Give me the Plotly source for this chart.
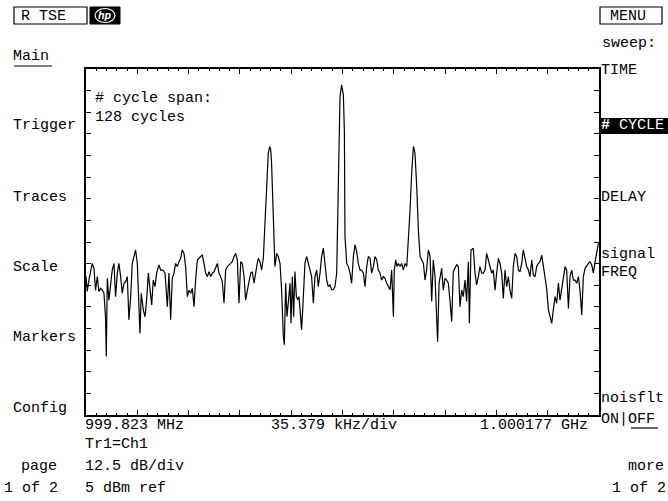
import plotly.graph_objects as go

# ---- data: frequency offset from 1 GHz centre (kHz) and level (dBm) ----
lower_freq_khz = [-176.9,-176.0,-174.9,-173.7,-172.6,-171.4,-170.3,-169.1,-168.0,-166.8,-165.7,-164.5,-163.4,-162.9,-162.2,-161.1,-159.9,-158.8,-157.6,-156.5,-155.3,-154.2,-153.0,-151.9,-150.7,-149.6,-148.4,-147.3,-146.1,-145.0,-143.8,-142.7,-141.5,-140.4,-139.7,-138.8,-137.4,-136.2,-135.1,-133.9,-132.8,-131.6,-130.5,-129.3,-128.2,-126.6,-125.4,-123.8,-122.4,-120.8,-119.7,-118.5,-117.4,-116.2,-115.1,-113.9,-112.8,-111.6,-110.5,-109.3,-108.2,-107.0,-105.9,-104.7,-103.6,-102.4,-101.3,-100.1,-97.8,-96.7,-95.5,-94.4,-93.2,-92.1,-90.9,-89.8,-88.6,-87.5,-86.3,-85.2,-84.0,-82.9,-81.7,-80.6,-79.4,-77.1,-76.0,-74.8,-73.7,-72.5,-71.4,-70.2,-69.1,-67.9,-66.8,-65.6,-64.5,-63.3,-62.2,-61.0]
lower_level_dbm = [-55.0,-59.3,-56.0,-53.1,-51.2,-52.6,-58.9,-55.0,-59.3,-58.4,-58.9,-59.8,-67.0,-78.1,-55.5,-61.8,-57.9,-53.1,-51.2,-60.8,-54.0,-51.2,-55.0,-59.8,-56.9,-56.5,-55.0,-67.5,-60.8,-51.2,-49.2,-47.3,-51.2,-61.3,-71.4,-59.8,-64.6,-66.6,-61.8,-54.0,-57.9,-63.2,-56.0,-57.9,-54.0,-51.6,-53.1,-53.1,-54.0,-63.7,-54.0,-67.5,-55.5,-54.0,-51.2,-52.1,-50.7,-49.7,-47.3,-48.3,-52.1,-60.8,-58.9,-59.8,-58.4,-63.7,-56.0,-50.2,-49.2,-48.8,-51.2,-54.0,-55.0,-53.6,-55.0,-54.0,-53.6,-52.1,-51.2,-54.0,-55.0,-56.5,-62.7,-53.1,-52.1,-51.2,-50.7,-49.2,-48.3,-50.2,-62.7,-50.7,-51.2,-55.0,-61.8,-58.9,-56.0,-54.0,-53.6,-56.9]

carrier_freq_khz = [-59.2,-58.1,-56.9,-55.8,-54.6,-53.5,-52.3,-51.2,-50.2,-49.5,-48.9,-48.4,-47.7,-46.6,-45.4,-44.3,-43.1,-42.0,-40.8,-40.1,-39.2,-38.3,-37.4,-36.2,-35.5,-34.6,-33.7,-32.8,-31.8,-30.9,-30.0,-29.1,-28.2,-27.0,-25.9,-24.7,-23.6,-22.4,-21.3,-20.1,-19.0,-17.8,-16.7,-15.5,-14.4,-13.2,-12.0,-10.9,-9.8,-8.6,-7.5,-6.3,-5.2,-4.0,-2.9,-1.7,-0.6,0.6,1.3,1.7,2.9,4.0,5.2,6.3,7.5,8.6,9.8,10.9,12.1,13.2,14.4,15.5,16.7,17.8,19.0,20.1,21.3,22.4,23.6,24.7,25.9,27.0,28.2,29.3,30.5,31.6,32.8,33.9,35.1,35.7,36.7,37.6,38.5,39.7,40.8,42.0,43.1,44.3,45.4,46.6,47.7,48.9,49.5,50.0,51.2,52.3,53.5,54.6,55.8]
carrier_level_dbm = [-52.1,-49.7,-50.7,-53.1,-49.7,-40.6,-29.0,-19.4,-17.4,-18.4,-22.3,-30.0,-42.5,-52.1,-48.3,-49.2,-51.2,-58.8,-72.3,-74.7,-56.9,-66.6,-62.7,-56.9,-68.5,-55.0,-66.6,-53.5,-60.8,-61.7,-60.8,-64.6,-70.4,-60.8,-51.2,-49.2,-51.2,-53.1,-55.0,-62.7,-55.0,-53.1,-57.9,-54.0,-49.2,-46.8,-52.1,-56.0,-57.9,-57.4,-58.8,-58.8,-57.9,-54.0,-29.0,-3.0,0.4,-2.5,-13.1,-43.4,-51.2,-52.1,-54.0,-56.9,-49.2,-45.8,-47.8,-51.2,-53.1,-53.1,-54.0,-57.9,-52.1,-49.2,-49.7,-54.0,-52.1,-49.2,-50.2,-53.1,-54.0,-56.0,-55.0,-55.5,-56.9,-57.9,-58.8,-53.1,-66.6,-53.1,-50.2,-52.1,-51.2,-52.1,-51.2,-53.1,-51.2,-52.1,-45.4,-35.7,-25.1,-17.4,-18.4,-19.4,-29.0,-41.5,-49.2,-50.2,-51.2]

upper_freq_khz = [56.9,58.0,59.2,60.4,61.5,62.6,63.8,64.9,65.6,66.6,67.7,68.4,69.5,70.7,71.8,73.0,74.1,75.3,76.4,77.6,78.7,79.9,81.0,82.2,83.3,84.5,85.6,86.8,87.5,88.6,90.2,91.4,92.5,93.7,94.8,96.0,97.1,98.3,99.4,100.6,101.7,102.9,104.0,105.2,106.3,107.5,108.6,109.8,110.9,112.1,113.2,114.4,115.5,116.7,117.8,119.0,120.1,121.3,122.4,123.6,124.7,125.9,127.0,128.2,129.3,130.5,131.6,132.8,133.9,135.1,136.2,137.4,138.5,139.7,140.8,142.0,143.1,144.3,145.4,146.6,147.7,148.9,150.0,151.2,152.3,153.5,154.6,155.8,156.9,158.1,159.2,160.4,161.5,162.7,163.8,165.0,166.1,167.3,169.6,170.7,171.9,173.0,174.2,175.3,176.5]
upper_level_dbm = [-56.0,-53.1,-47.3,-49.2,-62.2,-50.2,-55.0,-70.4,-73.8,-56.9,-54.0,-52.6,-58.9,-55.5,-56.0,-56.9,-61.8,-68.0,-53.6,-52.6,-51.6,-52.1,-63.7,-58.9,-60.8,-56.0,-62.2,-50.7,-68.5,-47.3,-46.8,-54.0,-57.4,-55.0,-52.1,-54.0,-54.0,-53.1,-48.3,-50.2,-52.1,-54.0,-53.1,-58.9,-54.0,-49.7,-51.2,-54.0,-61.3,-53.1,-57.9,-55.0,-58.9,-61.3,-52.1,-48.3,-49.2,-53.1,-53.6,-51.2,-47.3,-50.2,-52.1,-53.1,-55.0,-50.2,-54.5,-55.0,-52.1,-51.2,-50.7,-48.8,-51.6,-55.5,-58.4,-64.6,-66.6,-68.5,-64.6,-60.8,-62.7,-56.9,-61.8,-58.9,-55.0,-52.1,-53.1,-64.2,-55.0,-53.1,-56.0,-56.0,-56.9,-55.0,-58.9,-66.1,-55.0,-52.6,-51.2,-50.7,-51.6,-54.0,-50.7,-48.3,-45.4]

assert len(lower_freq_khz) == len(lower_level_dbm)
assert len(carrier_freq_khz) == len(carrier_level_dbm)
assert len(upper_freq_khz) == len(upper_level_dbm)

freq_khz = lower_freq_khz + carrier_freq_khz + upper_freq_khz
level_dbm = lower_level_dbm + carrier_level_dbm + upper_level_dbm

khz_per_div = 35.379
db_per_div = 12.5
ref_dbm = 5.0
n_xdiv = 10
n_ydiv = 8

left_menu = ["Trigger", "Traces", "Scale", "Markers", "Config"]
left_menu_y = [126, 197, 267, 337, 408]

# ---- layout geometry (pixels) ----
W, H = 668, 501
L, R, T, B = 86, 599, 69, 415
FONT = "Liberation Mono, DejaVu Sans Mono, monospace"
FS = 15


def px(x, y):
    return (x - L) / (R - L), (B - y) / (B - T)


annotations = []


def text(x, y, s, color="black", anchor="left", size=FS):
    xp, yp = px(x, y)
    annotations.append(dict(x=xp, y=yp, xref="paper", yref="paper", text=s,
                            showarrow=False, xanchor=anchor, yanchor="middle",
                            font=dict(family=FONT, size=size, color=color),
                            borderpad=0))


shapes = []


def rect(x0, y0, x1, y1, fill=None, line="black", lw=1.2, kind="rect"):
    a = px(x0, y0)
    b = px(x1, y1)
    shapes.append(dict(type=kind, xref="paper", yref="paper",
                       x0=a[0], y0=b[1], x1=b[0], y1=a[1],
                       fillcolor=fill if fill else "rgba(0,0,0,0)",
                       line=dict(color=line, width=lw), layer="above"))


def hline(x0, x1, y, lw=1.2):
    a = px(x0, y)
    b = px(x1, y)
    shapes.append(dict(type="line", xref="paper", yref="paper",
                       x0=a[0], y0=a[1], x1=b[0], y1=b[1],
                       line=dict(color="black", width=lw), layer="above"))


# header
rect(14, 7, 87, 24)
text(20, 16, "R TSE")
rect(90, 7, 120, 24, fill="black", line="black", lw=1)
rect(95, 8.5, 115, 22.5, line="white", lw=1.2, kind="circle")
text(105, 16, "<b><i>hp</i></b>", color="white", anchor="center", size=11)
rect(600, 7, 662, 24)
text(609, 16, "MENU")

# left menu
text(12, 57, "Main")
hline(14, 52, 66)
for lab, yy in zip(left_menu, left_menu_y):
    text(12, yy, lab)
text(20, 466, "page")
text(3, 488, "1 of 2")

# right menu
text(601, 44, "sweep:")
text(600, 70, "TIME")
rect(600, 118, 668, 134, fill="black", line="black", lw=0)
text(600, 126, "<b>#</b> CYCLE", color="white")
text(600, 197, "DELAY")
text(600, 254, "signal")
text(600, 272, "FREQ")
text(600, 398, "noisflt")
text(600, 419, "ON|OFF")
hline(631, 658, 428)
text(627, 466, "more")
text(611, 488, "1 of 2")

# in-graticule and bottom text
text(94, 98, "# cycle span:")
text(94, 117, "128 cycles")
text(84, 425, "999.823 MHz")
text(270, 425, "35.379 kHz/div")
text(479, 425, "1.000177 GHz")
text(84, 445, "Tr1=Ch1")
text(84, 466, "12.5 dB/div")
text(84, 488, "5 dBm ref")

fig = go.Figure()
fig.add_trace(go.Scatter(x=freq_khz, y=level_dbm, mode="lines",
                         line=dict(color="black", width=1.2),
                         hoverinfo="skip", showlegend=False))

half_span = khz_per_div * n_xdiv / 2
bottom_dbm = ref_dbm - db_per_div * n_ydiv

fig.update_layout(
    width=W, height=H,
    margin=dict(l=L, r=W - R, t=T, b=H - B, pad=0),
    paper_bgcolor="white", plot_bgcolor="white",
    showlegend=False,
    shapes=shapes, annotations=annotations,
    xaxis=dict(range=[-half_span, half_span], showgrid=False, zeroline=False,
               showline=True, linecolor="black", linewidth=1.5, mirror="ticks",
               ticks="inside", ticklen=5, tickwidth=1.2, tickcolor="black",
               tick0=0, dtick=khz_per_div, showticklabels=False,
               minor=dict(ticks="inside", ticklen=2.5, tickwidth=1.2,
                          tickcolor="black", dtick=khz_per_div / 5, showgrid=False)),
    yaxis=dict(range=[bottom_dbm, ref_dbm], showgrid=False, zeroline=False,
               showline=True, linecolor="black", linewidth=1.5, mirror="ticks",
               ticks="inside", ticklen=5, tickwidth=1.2, tickcolor="black",
               tick0=bottom_dbm, dtick=db_per_div / 2, showticklabels=False),
)

fig.write_html("out.html", config={"displayModeBar": False},
               post_script="document.body.style.margin='0';document.body.style.overflow='hidden';")
